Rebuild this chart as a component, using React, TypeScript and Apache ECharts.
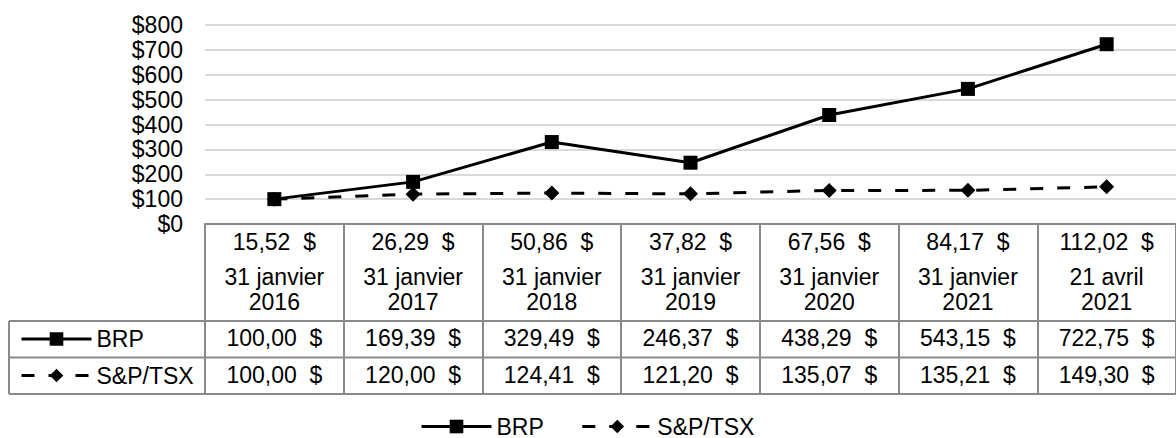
import React, { useEffect, useRef } from "react";
import * as echarts from "echarts";

const categories = ["31 janvier\n2016", "31 janvier\n2017", "31 janvier\n2018", "31 janvier\n2019", "31 janvier\n2020", "31 janvier\n2021", "21 avril\n2021"];
const stockPrices = [15.52, 26.29, 50.86, 37.82, 67.56, 84.17, 112.02];
const brpValues = [100.0, 169.39, 329.49, 246.37, 438.29, 543.15, 722.75];
const tsxValues = [100.0, 120.0, 124.41, 121.2, 135.07, 135.21, 149.3];
const seriesNames = ["BRP", "S&P/TSX"];
const yTicks = [0, 100, 200, 300, 400, 500, 600, 700, 800];

const FONT = "'Liberation Sans', Arial, sans-serif";
const FS = 23;
const BORDER = "#8a8a8a";

const money = (v: number) => v.toFixed(2).replace(".", ",") + "  $";

export default function App() {
  const ref = useRef<HTMLDivElement>(null);
  useEffect(() => {
    document.body.style.margin = "0";
    const chart = echarts.init(ref.current!, null, { renderer: "svg" });
    const baseText = { color: "#000", fontFamily: FONT, fontSize: FS, lineHeight: 25 };
    const hiddenAxis = {
      type: "category" as const,
      data: categories,
      position: "bottom" as const,
      axisLine: { show: false },
      axisTick: { show: false },
      splitLine: { show: false },
    };
    chart.setOption({
      animation: false,
      textStyle: { fontFamily: FONT },
      grid: { left: 205, top: 25, width: 980, height: 199 },
      legend: [
        {
          data: seriesNames,
          left: 420,
          top: 415,
          padding: 0,
          itemWidth: 70,
          itemHeight: 17,
          itemGap: 37,
          selectedMode: false,
          lineStyle: { width: 3 },
          textStyle: { color: "#000", fontFamily: FONT, fontSize: 23, lineHeight: 17 },
        },
        {
          data: seriesNames,
          orient: "vertical",
          left: 20,
          top: 327.5,
          padding: 0,
          itemWidth: 70,
          itemHeight: 17,
          itemGap: 13.5,
          selectedMode: false,
          lineStyle: { width: 3 },
          textStyle: { color: "#000", fontFamily: FONT, fontSize: FS, lineHeight: 23 },
        },
      ],
      xAxis: [
        {
          type: "category",
          data: categories,
          position: "bottom",
          boundaryGap: true,
          axisLine: { show: true, lineStyle: { color: BORDER, width: 2 } },
          axisTick: { show: true, length: 170, interval: 0, lineStyle: { color: BORDER, width: 2 } },
          axisLabel: {
            interval: 0,
            margin: 5,
            ...baseText,
            formatter: (_v: string, i: number) => money(stockPrices[i]),
          },
        },
        {
          ...hiddenAxis,
          axisLabel: { interval: 0, margin: 40.5, ...baseText, align: "center" },
        },
        {
          ...hiddenAxis,
          axisLabel: {
            interval: 0,
            margin: 101.8,
            ...baseText,
            formatter: (_v: string, i: number) => money(brpValues[i]),
          },
        },
        {
          ...hiddenAxis,
          axisLabel: {
            interval: 0,
            margin: 138.5,
            ...baseText,
            formatter: (_v: string, i: number) => money(tsxValues[i]),
          },
        },
      ],
      yAxis: {
        type: "value",
        min: yTicks[0],
        max: yTicks[yTicks.length - 1],
        interval: 100,
        axisLine: { show: false },
        axisTick: { show: false },
        splitLine: { lineStyle: { color: "#d9d9d9", width: 2 } },
        axisLabel: {
          margin: 22,
          color: "#000",
          fontFamily: FONT,
          fontSize: FS,
          formatter: (v: number) => "$" + v,
        },
      },
      series: [
        {
          name: seriesNames[0],
          type: "line",
          xAxisIndex: 0,
          data: brpValues,
          symbol: "rect",
          symbolSize: 14,
          itemStyle: { color: "#000" },
          lineStyle: { color: "#000", width: 3 },
          z: 3,
        },
        {
          name: seriesNames[1],
          type: "line",
          xAxisIndex: 0,
          data: tsxValues,
          symbol: "diamond",
          symbolSize: 15,
          itemStyle: { color: "#000" },
          lineStyle: { color: "#000", width: 3, type: [13, 14] },
          z: 2,
        },
      ],
      graphic: [
        { type: "line", shape: { x1: 9, y1: 321, x2: 1186, y2: 321 }, style: { stroke: BORDER, lineWidth: 2 } },
        { type: "line", shape: { x1: 9, y1: 357.5, x2: 1186, y2: 357.5 }, style: { stroke: BORDER, lineWidth: 2 } },
        { type: "line", shape: { x1: 9, y1: 394, x2: 1186, y2: 394 }, style: { stroke: BORDER, lineWidth: 2 } },
        { type: "line", shape: { x1: 9, y1: 321, x2: 9, y2: 394 }, style: { stroke: BORDER, lineWidth: 2 } },
      ],
    });
    return () => chart.dispose();
  }, []);
  return <div ref={ref} style={{ width: 1176, height: 438 }} />;
}
